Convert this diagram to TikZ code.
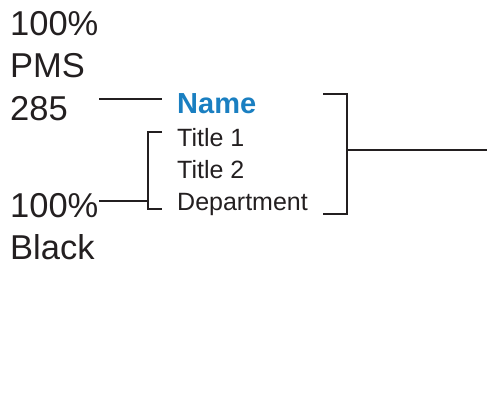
\documentclass[tikz,border=0pt]{standalone}
\usepackage{fontspec}
\setmainfont{Liberation Sans}
\definecolor{ink}{HTML}{231F20}
\definecolor{pmsblue}{HTML}{1A7FC1}
\begin{document}
\begin{tikzpicture}[x=1pt,y=-1pt,
  big/.style={anchor=base west,inner sep=0pt,text=ink,font=\fontsize{34.5}{34.5}\selectfont},
  small/.style={anchor=base west,inner sep=0pt,text=ink,font=\fontsize{25}{25}\selectfont},
  ln/.style={draw=ink,line width=2.2pt}]
\useasboundingbox (0,0) rectangle (487,392);
\node[big] (p1) at (10,35) {100\%};
\node[big] (p2) at (10,77) {PMS};
\node[big] (p3) at (10,120) {285};
\node[big] (b1) at (10,217) {100\%};
\node[big] (b2) at (10,259) {Black};
\node[anchor=base west,inner sep=0pt,text=pmsblue,font=\fontsize{29}{29}\selectfont\bfseries] (name) at (177,113) {Name};
\node[small] (t1) at (177,146) {Title 1};
\node[small] (t2) at (177,178) {Title 2};
\node[small] (dep) at (177,210) {Department};
% PMS line
\coordinate (a1) at (99,99);
\coordinate (a2) at (162,99);
\draw[ln] (a1) -- (a2);
% left bracket
\coordinate (lt) at (162,132);
\coordinate (lb) at (162,209);
\coordinate (lm) at (148,201);
\coordinate (bl) at (99,201);
\draw[ln] (lt) -- (148,132) -- (148,209) -- (lb);
\draw[ln] (bl) -- (lm);
% right bracket
\coordinate (rt) at (323,94);
\coordinate (rb) at (323,214);
\coordinate (rm) at (347,150);
\coordinate (re) at (487,150);
\draw[ln] (rt) -- (347,94) -- (347,214) -- (rb);
\draw[ln] (rm) -- (re);
\end{tikzpicture}
\end{document}
